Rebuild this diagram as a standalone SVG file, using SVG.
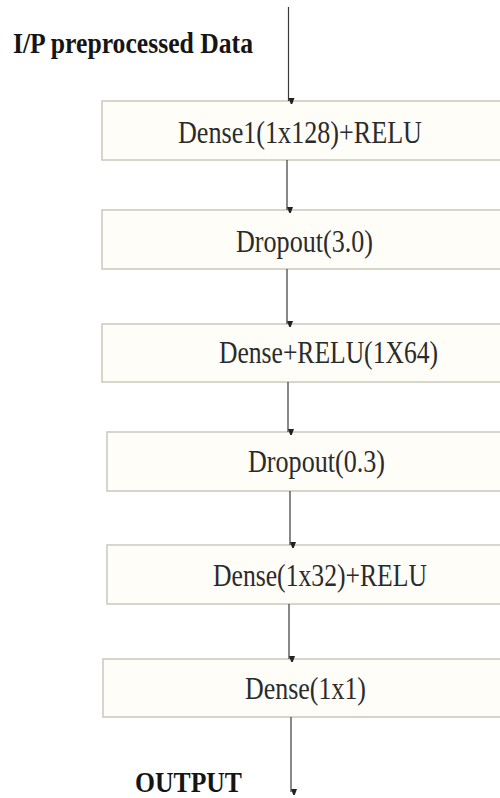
<svg xmlns="http://www.w3.org/2000/svg" width="500" height="798" viewBox="0 0 500 798">
<style>
.box{fill:#fefdf8;stroke:#c9c9bc;stroke-width:1.5}
.lbl{font-family:"Liberation Serif","Times New Roman",serif;font-size:31px;fill:#2b2b2b;text-anchor:middle}
.bold{font-family:"Liberation Serif","Times New Roman",serif;font-size:29px;font-weight:bold;fill:#151515}
.conn{stroke:#3a3a3a;stroke-width:1.2;fill:none;marker-end:url(#ah)}
</style>
<defs>
<marker id="ah" viewBox="0 0 6 8" refX="3" refY="8" markerWidth="6" markerHeight="8" markerUnits="userSpaceOnUse" orient="auto-start-reverse">
<path d="M0,0 L6,0 L3,8 Z" fill="#222" transform="rotate(-90 3 4) translate(-1 1)"/>
</marker>
</defs>
<rect width="500" height="798" fill="#ffffff"/>
<g id="input-label"><text class="bold" x="13" y="53" textLength="240" lengthAdjust="spacingAndGlyphs">I/P preprocessed Data</text></g>
<g id="dense1"><rect class="box" x="102" y="101" width="410" height="59"/><text class="lbl" x="300" y="143" textLength="244" lengthAdjust="spacingAndGlyphs">Dense1(1x128)+RELU</text></g>
<g id="dropout1"><rect class="box" x="102" y="210" width="410" height="59"/><text class="lbl" x="304.5" y="252" textLength="137" lengthAdjust="spacingAndGlyphs">Dropout(3.0)</text></g>
<g id="dense2"><rect class="box" x="102" y="324" width="410" height="58"/><text class="lbl" x="328.5" y="363" textLength="219" lengthAdjust="spacingAndGlyphs">Dense+RELU(1X64)</text></g>
<g id="dropout2"><rect class="box" x="107" y="432" width="405" height="59"/><text class="lbl" x="316.5" y="472" textLength="137" lengthAdjust="spacingAndGlyphs">Dropout(0.3)</text></g>
<g id="dense3"><rect class="box" x="107" y="545" width="405" height="59"/><text class="lbl" x="320" y="586" textLength="214" lengthAdjust="spacingAndGlyphs">Dense(1x32)+RELU</text></g>
<g id="dense4"><rect class="box" x="103" y="659" width="409" height="58"/><text class="lbl" x="305.5" y="699" textLength="121" lengthAdjust="spacingAndGlyphs">Dense(1x1)</text></g>
<g id="output-label"><text class="bold" x="135" y="792" textLength="107" lengthAdjust="spacingAndGlyphs">OUTPUT</text></g>
<g id="connectors">
<line class="conn" x1="288.5" y1="7" x2="288.5" y2="101"/>
<line class="conn" x1="287" y1="160" x2="287" y2="210"/>
<line class="conn" x1="287" y1="269" x2="287" y2="324"/>
<line class="conn" x1="288" y1="382" x2="288" y2="432"/>
<line class="conn" x1="290" y1="491" x2="290" y2="545"/>
<line class="conn" x1="289" y1="604" x2="289" y2="659"/>
<line class="conn" x1="291" y1="717" x2="291" y2="792"/>
</g>
</svg>
